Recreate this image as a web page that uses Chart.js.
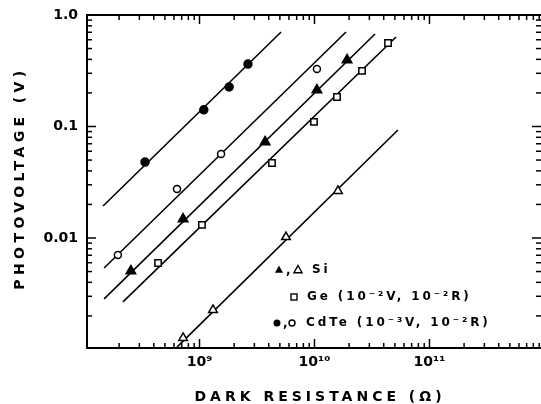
<!DOCTYPE html>
<html><head><meta charset="utf-8">
<script src="https://cdn.jsdelivr.net/npm/chart.js@4"></script>
<style>
html,body{margin:0;padding:0;background:#fff;overflow:hidden;width:541px;height:404px}
#wrap{width:541px;height:404px;position:relative}
</style>
</head><body><div id="wrap"><canvas id="c" width="541" height="404"></canvas></div>
<script>
// ---- data (dark resistance in ohm, photovoltage in V) ----
const siFilledR = [2.53e8, 7.2e8, 3.72e9, 1.05e10, 1.92e10];
const siFilledV = [0.00506, 0.0148, 0.0726, 0.212, 0.395];
const siOpenR = [7.2e8, 1.31e9, 5.65e9, 1.6e10];
const siOpenV = [0.00127, 0.00226, 0.0102, 0.0264];
const geR = [4.36e8, 1.05e9, 4.27e9, 9.9e9, 1.57e10, 2.59e10, 4.36e10];
const geV = [0.00597, 0.0131, 0.0471, 0.110, 0.184, 0.315, 0.561];
const cdteFilledR = [3.36e8, 1.09e9, 1.81e9, 2.64e9];
const cdteFilledV = [0.048, 0.141, 0.226, 0.363];
const cdteOpenR = [1.95e8, 6.37e8, 1.54e9, 1.05e10];
const cdteOpenV = [0.00704, 0.0275, 0.0567, 0.328];
// fitted lines (end points)
const fitCdteFilledR = [1.45e8, 5.12e9];
const fitCdteFilledV = [0.01936, 0.704];
const fitCdteOpenR = [1.48e8, 1.88e10];
const fitCdteOpenV = [0.00538, 0.704];
const fitSiFilledR = [1.48e8, 3.36e10];
const fitSiFilledV = [0.00284, 0.676];
const fitGeR = [2.16e8, 5.12e10];
const fitGeV = [0.00267, 0.635];
const fitSiOpenR = [6.37e8, 5.32e10];
const fitSiOpenV = [0.00105, 0.093];
// ticks
const xTickValues = [1e9, 1e10, 1e11];
const xTickLabels = ["10\u2079", "10\u00b9\u2070", "10\u00b9\u00b9"];
const yTickValues = [0.01, 0.1, 1];
const yTickLabels = ["0.01", "0.1", "1.0"];
const xTitle = "DARK RESISTANCE (\u03a9)";
const yTitle = "PHOTOVOLTAGE (V)";
const legendRows = [
  {marks: ["tri", "otri"], name: "Si", note: ""},
  {marks: ["osq"], name: "Ge", note: "(10\u207b\u00b2V, 10\u207b\u00b2R)"},
  {marks: ["dot", "odot"], name: "CdTe", note: "(10\u207b\u00b3V, 10\u207b\u00b2R)"}
];

const pts = (xs, ys) => xs.map((x, i) => ({x: x, y: ys[i]}));
const FONT = '"DejaVu Sans", sans-serif';

function lineDs(xs, ys) {
  return {type: 'line', data: pts(xs, ys), borderColor: '#000', borderWidth: 1.6,
    pointRadius: 0, showLine: true, fill: false, order: 2};
}
function markDs(xs, ys, style, filled, r) {
  return {type: 'scatter', data: pts(xs, ys), pointStyle: style, pointRadius: r,
    pointHoverRadius: r, backgroundColor: filled ? '#000' : '#fff', borderColor: '#000',
    pointBorderWidth: 1.5, borderWidth: 1.5, order: 1};
}

function tri(ctx, x, y, r, filled) {
  ctx.beginPath();
  ctx.moveTo(x, y - r); ctx.lineTo(x + r * 0.9, y + r * 0.6); ctx.lineTo(x - r * 0.9, y + r * 0.6); ctx.closePath();
  if (filled) ctx.fill(); else ctx.stroke();
}

const frame = {
  id: 'frame',
  afterDraw(chart) {
    const {ctx, chartArea: a, scales: {x, y}} = chart;
    ctx.save();
    ctx.strokeStyle = '#000'; ctx.fillStyle = '#000';
    ctx.lineWidth = 2;
    const seg = (x1, y1, x2, y2) => { ctx.beginPath(); ctx.moveTo(x1, y1); ctx.lineTo(x2, y2); ctx.stroke(); };
    // top, left and bottom border; the right border lies just outside the picture
    ctx.beginPath();
    ctx.moveTo(a.right + 4, a.top); ctx.lineTo(a.left, a.top); ctx.lineTo(a.left, a.bottom); ctx.lineTo(a.right + 4, a.bottom);
    ctx.stroke();
    ctx.lineWidth = 1.5;
    const rx = a.right + 2;
    for (let e = 7; e <= 12; e++) for (let m = 1; m <= 9; m++) {
      const v = m * Math.pow(10, e);
      if (v < x.min || v > x.max) continue;
      const px = x.getPixelForValue(v), L = m === 1 ? 9 : 5;
      seg(px, a.top, px, a.top + L); seg(px, a.bottom, px, a.bottom - L);
    }
    for (let e = -4; e <= 0; e++) for (let m = 1; m <= 9; m++) {
      const v = m * Math.pow(10, e);
      if (v < y.min || v > y.max * 1.0001) continue;
      const py = y.getPixelForValue(v), L = m === 1 ? 9 : 5;
      seg(a.left, py, a.left + L, py); seg(rx, py, rx - L - 2, py);
    }
    // axis titles
    ctx.font = 'bold 14px ' + FONT;
    ctx.letterSpacing = '4px';
    ctx.textAlign = 'center'; ctx.textBaseline = 'middle';
    ctx.fillText(xTitle, 320, 397);
    ctx.save(); ctx.translate(20, 178); ctx.rotate(-Math.PI / 2);
    ctx.letterSpacing = '4.4px';
    ctx.fillText(yTitle, 0, 0); ctx.restore();
    // legend
    ctx.textAlign = 'left';
    ctx.font = 'bold 12px ' + FONT;
    ctx.letterSpacing = '2.9px';
    const rowsY = [270, 297, 323];
    legendRows.forEach((row, i) => {
      const yy = rowsY[i];
      ctx.lineWidth = 1.4;
      if (row.marks[0] === 'tri') {
        tri(ctx, 279, yy, 4.5, true);
        ctx.fillText(',', 286, yy + 1);
        tri(ctx, 298, yy, 4.5, false);
        ctx.fillText(row.name, 312, yy);
      } else if (row.marks[0] === 'osq') {
        ctx.strokeRect(291, yy - 3, 6, 6);
        ctx.fillText(row.name + ' ' + row.note, 307, yy);
      } else {
        ctx.beginPath(); ctx.arc(277, yy, 3.5, 0, Math.PI * 2); ctx.fill();
        ctx.fillText(',', 283, yy + 1);
        ctx.beginPath(); ctx.arc(292, yy, 3, 0, Math.PI * 2); ctx.stroke();
        ctx.fillText(row.name + ' ' + row.note, 306, yy);
      }
    });
    ctx.restore();
  }
};

function matchLabel(v, vals, labels) {
  for (let i = 0; i < vals.length; i++) if (Math.abs(Math.log10(v) - Math.log10(vals[i])) < 1e-6) return labels[i];
  return '';
}

new Chart(document.getElementById('c'), {
  data: {
    datasets: [
      lineDs(fitCdteFilledR, fitCdteFilledV),
      lineDs(fitCdteOpenR, fitCdteOpenV),
      lineDs(fitSiFilledR, fitSiFilledV),
      lineDs(fitGeR, fitGeV),
      lineDs(fitSiOpenR, fitSiOpenV),
      markDs(cdteFilledR, cdteFilledV, 'circle', true, 4),
      markDs(cdteOpenR, cdteOpenV, 'circle', false, 3.5),
      markDs(siFilledR, siFilledV, 'triangle', true, 5.5),
      markDs(siOpenR, siOpenV, 'triangle', false, 5),
      markDs(geR, geV, 'rect', false, 4.5)
    ]
  },
  options: {
    responsive: false, animation: false, devicePixelRatio: 1,
    layout: {autoPadding: false, padding: {top: 15, right: 0, left: 0, bottom: 0}},
    plugins: {legend: {display: false}, tooltip: {enabled: false}, title: {display: false}},
    scales: {
      x: {
        type: 'logarithmic', min: 1.051e8, max: 9.33e11,
        afterBuildTicks: s => { s.ticks = xTickValues.map(v => ({value: v})); },
        afterFit: s => { s.height = 56; s.paddingLeft = 0; s.paddingRight = 0; },
        grid: {display: false, drawTicks: false}, border: {display: false},
        ticks: {color: '#000', padding: 6, maxRotation: 0, autoSkip: false,
          font: {family: FONT, size: 14, weight: 'bold'},
          callback: v => matchLabel(v, xTickValues, xTickLabels)}
      },
      y: {
        type: 'logarithmic', min: 1.031e-3, max: 1.0,
        afterBuildTicks: s => { s.ticks = yTickValues.map(v => ({value: v})); },
        afterFit: s => { s.width = 87; s.paddingTop = 0; s.paddingBottom = 0; },
        grid: {display: false, drawTicks: false}, border: {display: false},
        ticks: {color: '#000', padding: 9, autoSkip: false,
          font: {family: FONT, size: 14, weight: 'bold'},
          callback: v => matchLabel(v, yTickValues, yTickLabels)}
      }
    }
  },
  plugins: [frame]
});
</script>
</body></html>
